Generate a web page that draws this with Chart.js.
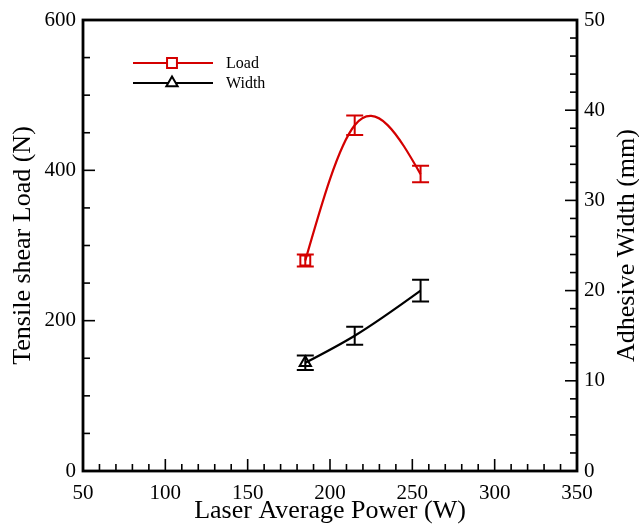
<!DOCTYPE html>
<html>
<head>
<meta charset="utf-8">
<script src="https://cdn.jsdelivr.net/npm/chart.js@4.4.0/dist/chart.umd.min.js"></script>
<style>
    html, body { margin: 0; padding: 0; background: #fff; }
    canvas { display: block; }
</style>
</head>
<body>
<canvas id="chart" width="639" height="524"></canvas>
<script>

// measured values: laser power (W), shear load (N), adhesive width (mm)
var power = [185, 215, 255];
var load = [280, 460, 395];
var loadErr = [8, 13, 11];
var adhWidth = [12, 15, 20];
var adhWidthErr = [0.8, 1, 1.2];

var powerTicks = [50, 100, 150, 200, 250, 300, 350];
var loadTicks = [0, 200, 400, 600];
var widthTicks = [0, 10, 20, 30, 40, 50];
var powerMinor = 10;
var loadMinor = 50;
var widthMinor = 2;

var rightTitle = "Adhesive Width (mm)";

var red = "#d40000";
var serif = "'Liberation Serif', 'Times New Roman', serif";

function points(xs, ys){
    return xs.map((x, i) => ({x: x, y: ys[i]}));
}

// second derivatives of a natural cubic spline
function splineM(xs, ys){
    var n = xs.length;
    var M = new Array(n).fill(0);
    if(n < 3) return M;
    var a = [], b = [], c = [], d = [];
    for(var i = 1; i < n - 1; i++){
        var h0 = xs[i] - xs[i-1];
        var h1 = xs[i+1] - xs[i];
        a.push(h0);
        b.push(2 * (h0 + h1));
        c.push(h1);
        d.push(6 * ((ys[i+1] - ys[i]) / h1 - (ys[i] - ys[i-1]) / h0));
    }
    var m = b.length;
    for(var i = 1; i < m; i++){
        var w = a[i] / b[i-1];
        b[i] -= w * c[i-1];
        d[i] -= w * d[i-1];
    }
    var sol = new Array(m);
    sol[m-1] = d[m-1] / b[m-1];
    for(var i = m - 2; i >= 0; i--){
        sol[i] = (d[i] - c[i] * sol[i+1]) / b[i];
    }
    for(var i = 0; i < m; i++) M[i+1] = sol[i];
    return M;
}

// smooth curve through the points of every dataset
const splinePlugin = {
    id: "spline",
    beforeDatasetsDraw(chart){
        const ctx = chart.ctx;
        const xs = chart.scales.x;
        chart.data.datasets.forEach((ds) => {
            const ys = chart.scales[ds.yAxisID];
            const X = ds.data.map((p) => p.x);
            const Y = ds.data.map((p) => p.y);
            const M = splineM(X, Y);
            ctx.save();
            ctx.strokeStyle = ds.borderColor;
            ctx.lineWidth = 2.2;
            ctx.beginPath();
            ctx.moveTo(xs.getPixelForValue(X[0]), ys.getPixelForValue(Y[0]));
            for(var i = 0; i < X.length - 1; i++){
                var h = X[i+1] - X[i];
                var s = (Y[i+1] - Y[i]) / h;
                var d0 = s - h * (2 * M[i] + M[i+1]) / 6;
                var d1 = s + h * (M[i] + 2 * M[i+1]) / 6;
                ctx.bezierCurveTo(
                    xs.getPixelForValue(X[i] + h / 3), ys.getPixelForValue(Y[i] + d0 * h / 3),
                    xs.getPixelForValue(X[i+1] - h / 3), ys.getPixelForValue(Y[i+1] - d1 * h / 3),
                    xs.getPixelForValue(X[i+1]), ys.getPixelForValue(Y[i+1])
                );
            }
            ctx.stroke();
            ctx.restore();
        });
    },
    afterDatasetsDraw(chart){
        // error bars
        const ctx = chart.ctx;
        const xs = chart.scales.x;
        chart.data.datasets.forEach((ds) => {
            const ys = chart.scales[ds.yAxisID];
            ctx.save();
            ctx.strokeStyle = ds.borderColor;
            ctx.lineWidth = 2;
            ds.data.forEach((p, i) => {
                var px = xs.getPixelForValue(p.x);
                var top = ys.getPixelForValue(p.y + ds.errors[i]);
                var bot = ys.getPixelForValue(p.y - ds.errors[i]);
                ctx.beginPath();
                ctx.moveTo(px, top); ctx.lineTo(px, bot);
                ctx.moveTo(px - 8.5, top); ctx.lineTo(px + 8.5, top);
                ctx.moveTo(px - 8.5, bot); ctx.lineTo(px + 8.5, bot);
                ctx.stroke();
            });
            ctx.restore();
        });
    }
};

function inwardTicks(ctx, scale, major, step, edge, dir, horizontal){
    for(var v = scale.min; v <= scale.max + 1e-9; v += step){
        var p = scale.getPixelForValue(v);
        var len = major.indexOf(Math.round(v * 1000) / 1000) >= 0 ? 12 : 7;
        ctx.beginPath();
        if(horizontal){
            ctx.moveTo(p, edge); ctx.lineTo(p, edge + dir * len);
        }else{
            ctx.moveTo(edge, p); ctx.lineTo(edge + dir * len, p);
        }
        ctx.stroke();
    }
}

// box around the plot, ticks pointing inside, right title, legend
const framePlugin = {
    id: "frame",
    afterDraw(chart){
        const ctx = chart.ctx;
        const a = chart.chartArea;
        ctx.save();
        ctx.strokeStyle = "#000";
        ctx.lineWidth = 1.6;
        inwardTicks(ctx, chart.scales.x, powerTicks, powerMinor, a.bottom, -1, true);
        inwardTicks(ctx, chart.scales.y, loadTicks, loadMinor, a.left, 1, false);
        inwardTicks(ctx, chart.scales.y2, widthTicks, widthMinor, a.right, -1, false);
        ctx.lineWidth = 2.8;
        ctx.strokeRect(a.left, a.top, a.right - a.left, a.bottom - a.top);

        // right axis title reads bottom to top like the left one
        ctx.save();
        ctx.translate(627, (a.top + a.bottom) / 2);
        ctx.rotate(-Math.PI / 2);
        ctx.fillStyle = "#000";
        ctx.font = "26px " + serif;
        ctx.textAlign = "center";
        ctx.textBaseline = "middle";
        ctx.fillText(rightTitle, 0, 0);
        ctx.restore();

        // legend
        var ly = [63, 83];
        chart.data.datasets.forEach((ds, i) => {
            ctx.strokeStyle = ds.borderColor;
            ctx.lineWidth = 2;
            ctx.beginPath();
            ctx.moveTo(133, ly[i]); ctx.lineTo(213, ly[i]);
            ctx.stroke();
            ctx.fillStyle = "#fff";
            Chart.helpers.drawPoint(ctx, {pointStyle: ds.pointStyle, radius: ds.legendRadius, borderWidth: 2}, 172, ly[i]);
            ctx.fillStyle = "#000";
            ctx.font = "16px " + serif;
            ctx.textAlign = "left";
            ctx.textBaseline = "middle";
            ctx.fillText(ds.label, 226, ly[i] + 1);
        });
        ctx.restore();
    }
};

const tickFont = {family: serif, size: 21};
const titleFont = {family: serif, size: 26, lineHeight: 1};

new Chart(document.getElementById("chart"), {
    type: "line",
    data: {
        datasets: [{
            label: "Load",
            yAxisID: "y",
            data: points(power, load),
            errors: loadErr,
            showLine: false,
            borderColor: red,
            pointStyle: "rect",
            pointRadius: [7, 0, 0],
            legendRadius: 7,
            pointBorderWidth: 2,
            pointBorderColor: red,
            pointBackgroundColor: "rgba(0,0,0,0)"
        }, {
            label: "Width",
            yAxisID: "y2",
            data: points(power, adhWidth),
            errors: adhWidthErr,
            showLine: false,
            borderColor: "#000",
            pointStyle: "triangle",
            pointRadius: [6.5, 0, 0],
            legendRadius: 6.5,
            pointBorderWidth: 2,
            pointBorderColor: "#000",
            pointBackgroundColor: "rgba(0,0,0,0)"
        }]
    },
    options: {
        responsive: false,
        animation: false,
        layout: { padding: { top: 20 } },
        plugins: {
            legend: { display: false },
            tooltip: { enabled: false }
        },
        scales: {
            x: {
                type: "linear",
                position: "bottom",
                min: 50,
                max: 350,
                afterBuildTicks: (s) => { s.ticks = powerTicks.map((v) => ({value: v})); },
                afterFit: (s) => { s.height = 53; },
                grid: { display: false, drawTicks: false },
                border: { display: false },
                ticks: { font: tickFont, color: "#000", padding: 10, maxRotation: 0, autoSkip: false },
                title: { display: true, text: "Laser Average Power (W)", font: titleFont, color: "#000", padding: 0 }
            },
            y: {
                type: "linear",
                position: "left",
                min: 0,
                max: 600,
                afterBuildTicks: (s) => { s.ticks = loadTicks.map((v) => ({value: v})); },
                afterFit: (s) => { s.width = 83; },
                grid: { display: false, drawTicks: false },
                border: { display: false },
                ticks: { font: tickFont, color: "#000", padding: 7 },
                title: { display: true, text: "Tensile shear Load (N)", font: titleFont, color: "#000", padding: { top: 10, bottom: 0 } }
            },
            y2: {
                type: "linear",
                position: "right",
                min: 0,
                max: 50,
                afterBuildTicks: (s) => { s.ticks = widthTicks.map((v) => ({value: v})); },
                afterFit: (s) => { s.width = 62; },
                grid: { display: false, drawTicks: false },
                border: { display: false },
                ticks: { font: tickFont, color: "#000", padding: 7 }
            }
        }
    },
    plugins: [splinePlugin, framePlugin]
});

</script>
</body>
</html>
